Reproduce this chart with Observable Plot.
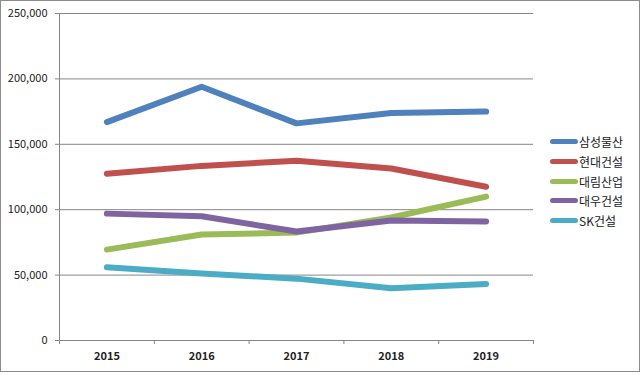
<!DOCTYPE html>
<html>
<head>
<meta charset="utf-8">
<script src="https://cdn.jsdelivr.net/npm/d3@7"></script>
<script src="https://cdn.jsdelivr.net/npm/@observablehq/plot@0.6"></script>
<style>
  html, body { margin: 0; padding: 0; background: #fff; }
  #wrap { position: relative; width: 640px; height: 375px; overflow: hidden; background: #f0f0f0; }
  #chart { position: absolute; left: 0; top: 0; }
  #border { position: absolute; left: 0; top: 0; width: 638px; height: 370px; border: 1px solid #8c8c8c; pointer-events: none; }
  #legend { position: absolute; left: 550px; top: 132px; font: 12px "Noto Sans CJK KR", "Noto Sans", sans-serif; color: #222; }
  .item { display: flex; align-items: center; height: 19.7px; }
  .sw { width: 28px; height: 5px; border-radius: 3px; margin-right: 1px; }
</style>
</head>
<body>
<div id="wrap"><div id="chart"></div><div id="border"></div><div id="legend"></div></div>
<script>
const years = [2015, 2016, 2017, 2018, 2019];
const seriesNames = ["삼성물산", "현대건설", "대림산업", "대우건설", "SK건설"];
const samsung = [167000, 194000, 166000, 174000, 175000];
const hyundai = [127500, 133500, 137500, 131500, 117500];
const daelim = [69500, 81000, 82500, 94000, 110000];
const daewoo = [97000, 95000, 83300, 91700, 91000];
const sk = [56000, 51200, 47300, 40000, 43200];
const colors = ["#4F81BD", "#C0504D", "#9BBB59", "#8064A2", "#4BACC6"];
const yTicks = [0, 50000, 100000, 150000, 200000, 250000];
const xBounds = [2014.5, 2015.5, 2016.5, 2017.5, 2018.5, 2019.5];

const allSeries = [samsung, hyundai, daelim, daewoo, sk];
const rows = [];
allSeries.forEach((vals, si) => vals.forEach((v, i) => rows.push({name: seriesNames[si], year: years[i], value: v})));

const font = '"Noto Sans CJK KR", "Noto Sans", sans-serif';
const chart = Plot.plot({
  width: 640,
  height: 375,
  marginLeft: 59,
  marginRight: 107,
  marginTop: 13,
  marginBottom: 35,
  style: {fontFamily: font, fontSize: "11px", color: "#222", background: "#fff"},
  x: {type: "linear", domain: [2014.5, 2019.5], axis: null, label: null},
  y: {domain: [0, 250000], axis: null, label: null},
  color: {domain: seriesNames, range: colors},
  marks: [
    Plot.gridY(yTicks.filter(d => d > 0), {stroke: "#868686", strokeOpacity: 1, strokeWidth: 1}),
    Plot.ruleX([2014.5], {stroke: "#868686"}),
    Plot.ruleY([0], {stroke: "#868686"}),
    Plot.axisY(yTicks, {label: null, tickSize: 4, tickPadding: 8, tickFormat: d3.format(","), stroke: "#868686", fill: "#222", fontSize: 11}),
    Plot.axisX(xBounds, {label: null, tickSize: 4, tickFormat: () => "", stroke: "#868686"}),
    Plot.axisX(years, {label: null, tickSize: 0, tickPadding: 12, tickFormat: d => String(d), fill: "#222", fontSize: 11, fontWeight: "bold"}),
    Plot.line(rows, {x: "year", y: "value", z: "name", stroke: "name", strokeWidth: 6, strokeLinecap: "round", strokeLinejoin: "round"})
  ]
});
document.getElementById("chart").appendChild(chart);

const legend = document.getElementById("legend");
seriesNames.forEach((n, i) => {
  const item = document.createElement("div");
  item.className = "item";
  const sw = document.createElement("div");
  sw.className = "sw";
  sw.style.background = colors[i];
  const t = document.createElement("span");
  t.textContent = n;
  item.appendChild(sw);
  item.appendChild(t);
  legend.appendChild(item);
});
</script>
</body>
</html>
